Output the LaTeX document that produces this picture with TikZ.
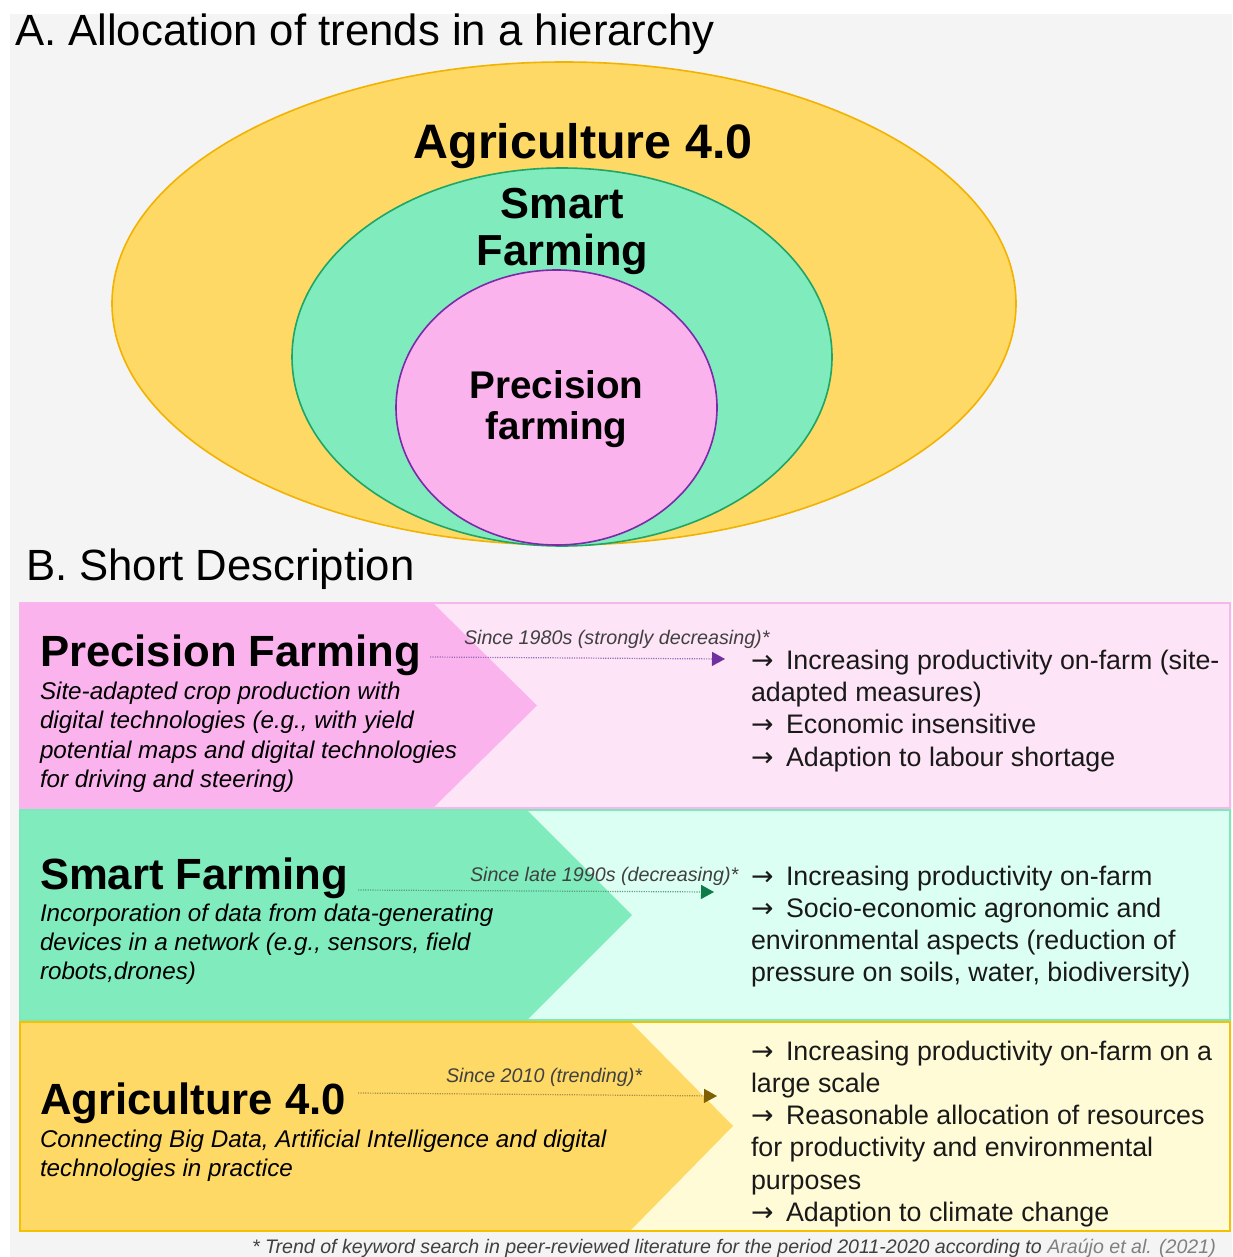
\documentclass[tikz,border=0pt]{standalone}
\usepackage{fontspec}
\setmainfont{Liberation Sans}
\newfontfamily\arrowfont{DejaVu Sans}
\usetikzlibrary{arrows.meta}
\newcommand\setfs[2]{\fontsize{#1}{#2}\selectfont}
\newcommand\rarr{\makebox[17.5pt][l]{\arrowfont →}}
\definecolor{bggray}{HTML}{F4F4F4}
\definecolor{yelF}{HTML}{FED966}
\definecolor{yelS}{HTML}{F2B200}
\definecolor{grnF}{HTML}{80EBBD}
\definecolor{grnS}{HTML}{1FA565}
\definecolor{pnkF}{HTML}{FBB3EE}
\definecolor{pnkS}{HTML}{7A2AA8}
\definecolor{pnkL}{HTML}{FDE4F7}
\definecolor{pnkB}{HTML}{F7B6EC}
\definecolor{grnL}{HTML}{DCFFF4}
\definecolor{grnB}{HTML}{7DE8BA}
\definecolor{yelL}{HTML}{FFFBD6}
\definecolor{yelB}{HTML}{F5C000}
\definecolor{lblgray}{HTML}{404040}
\definecolor{refgray}{HTML}{808080}
\definecolor{arP}{HTML}{7030A0}
\definecolor{arG}{HTML}{0F7A4A}
\definecolor{arY}{HTML}{7F6000}
\begin{document}
\begin{tikzpicture}[x=0.5pt,y=-0.5pt,
  every node/.style={inner sep=0pt, outer sep=0pt},
  bigtitle/.style={font=\setfs{21.85}{26}, anchor=base west},
  elltext/.style={font=\bfseries\setfs{#1}{#1}, anchor=base},
  ptitle/.style={font=\bfseries\setfs{21.85}{26}, anchor=base west},
  desc/.style={font=\itshape\setfs{12.1}{14.6}, anchor=base west},
  rtext/.style={font=\setfs{13.4}{16}, anchor=base west, text=black!90},
  lbl/.style={font=\itshape\setfs{9.85}{12}, anchor=base west, text=lblgray},
  trendarrow/.style={line width=0.6pt, dash pattern=on 0.6pt off 0.6pt, -{Triangle[length=6.5pt,width=7pt,color=#1]}}
]
\useasboundingbox (0,0) rectangle (1232,1257);
\fill[white] (0,0) rectangle (1232,1257);
\fill[bggray] (10,14) rectangle (1232,1257);

% ---- Part A ----
\node[bigtitle] (titA) at (15,46) {A. Allocation of trends in a hierarchy};
\draw[fill=yelF, draw=yelS, line width=0.8pt] (564,303.5) ellipse [x radius=452, y radius=241.5];
\draw[fill=grnF, draw=grnS, line width=0.8pt] (562,357) ellipse [x radius=270, y radius=189];
\draw[fill=pnkF, draw=pnkS, line width=0.8pt] (556.5,407.5) ellipse [x radius=160.5, y radius=137.5];
\node[elltext=24.2] (eAg) at (583,159) {Agriculture 4.0};
\node[elltext=21.7] (eSm1) at (562.5,219) {Smart};
\node[elltext=21.7] (eSm2) at (562.5,265) {Farming};
\node[elltext=19.3] (ePr1) at (556.5,398) {Precision};
\node[elltext=19.3] (ePr2) at (556.5,439) {farming};

% ---- Part B ----
\node[bigtitle] (titB) at (26,580) {B. Short Description};

% Precision band
\fill[pnkL] (20,603) rectangle (1230,808);
\fill[pnkF] (20,603) -- (433,603) -- (537,705.5) -- (433,808) -- (20,808) -- cycle;
\draw[pnkB, line width=1pt] (20,603) rectangle (1230,808);
% Smart band
\fill[grnL] (20,810) rectangle (1230,1020);
\fill[grnF] (20,810) -- (527,810) -- (632,915) -- (527,1020) -- (20,1020) -- cycle;
\draw[grnB, line width=1pt] (20,810) rectangle (1230,1020);
% Agriculture band
\fill[yelL] (20,1021.5) rectangle (1230,1231);
\fill[yelF] (20,1021.5) -- (630,1021.5) -- (733,1126) -- (630,1231) -- (20,1231) -- cycle;
\draw[yelB, line width=1pt] (20,1021.5) rectangle (1230,1231);

% Precision farming texts
\node[ptitle] (pfT) at (40,666) {Precision Farming};
\node[desc] (pfD1) at (40,699) {Site-adapted crop production with};
\node[desc] (pfD2) at (40,728.5) {digital technologies (e.g., with yield};
\node[desc] (pfD3) at (40,758) {potential maps and digital technologies};
\node[desc] (pfD4) at (40,787) {for driving and steering)};
\node[lbl] (pfL) at (464,644) {Since 1980s (strongly decreasing)*};
\coordinate (pfS) at (430,657);
\coordinate (pfE) at (725,659);
\draw[trendarrow=arP, draw=arP!70] (pfS) -- (pfE);
\node[rtext] (pfR1) at (751,669) {\rarr Increasing productivity on-farm (site-};
\node[rtext] (pfR2) at (751,701) {adapted measures)};
\node[rtext] (pfR3) at (751,733) {\rarr Economic insensitive};
\node[rtext] (pfR4) at (751,766) {\rarr Adaption to labour shortage};

% Smart farming texts
\node[ptitle] (sfT) at (40,889) {Smart Farming};
\node[desc] (sfD1) at (40,921) {Incorporation of data from data-generating};
\node[desc] (sfD2) at (40,950) {devices in a network (e.g., sensors, field};
\node[desc] (sfD3) at (40,979) {robots,drones)};
\node[lbl] (sfL) at (470,881) {Since late 1990s (decreasing)*};
\coordinate (sfS) at (358,890);
\coordinate (sfE) at (714,892);
\draw[trendarrow=arG, draw=arG!70] (sfS) -- (sfE);
\node[rtext] (sfR1) at (751,885) {\rarr Increasing productivity on-farm};
\node[rtext] (sfR2) at (751,917) {\rarr Socio-economic agronomic and};
\node[rtext] (sfR3) at (751,949) {environmental aspects (reduction of};
\node[rtext] (sfR4) at (751,981) {pressure on soils, water, biodiversity)};

% Agriculture 4.0 texts
\node[ptitle] (agT) at (40,1114) {Agriculture 4.0};
\node[desc] (agD1) at (40,1147) {Connecting Big Data, Artificial Intelligence and digital};
\node[desc] (agD2) at (40,1176) {technologies in practice};
\node[lbl] (agL) at (446,1082) {Since 2010 (trending)*};
\coordinate (agS) at (358,1093);
\coordinate (agE) at (717,1096);
\draw[trendarrow=arY, draw=arY!70] (agS) -- (agE);
\node[rtext] (agR1) at (751,1060) {\rarr Increasing productivity on-farm on a};
\node[rtext] (agR2) at (751,1092) {large scale};
\node[rtext] (agR3) at (751,1124) {\rarr Reasonable allocation of resources};
\node[rtext] (agR4) at (751,1156) {for productivity and environmental};
\node[rtext] (agR5) at (751,1189) {purposes};
\node[rtext] (agR6) at (751,1221) {\rarr Adaption to climate change};

% footnote
\node[lbl, font=\itshape\setfs{9.8}{11}] (fn) at (252,1253) {* Trend of keyword search in peer-reviewed literature for the period 2011-2020 according to \textcolor{refgray}{Araújo et al. (2021)}};
\end{tikzpicture}
\end{document}
